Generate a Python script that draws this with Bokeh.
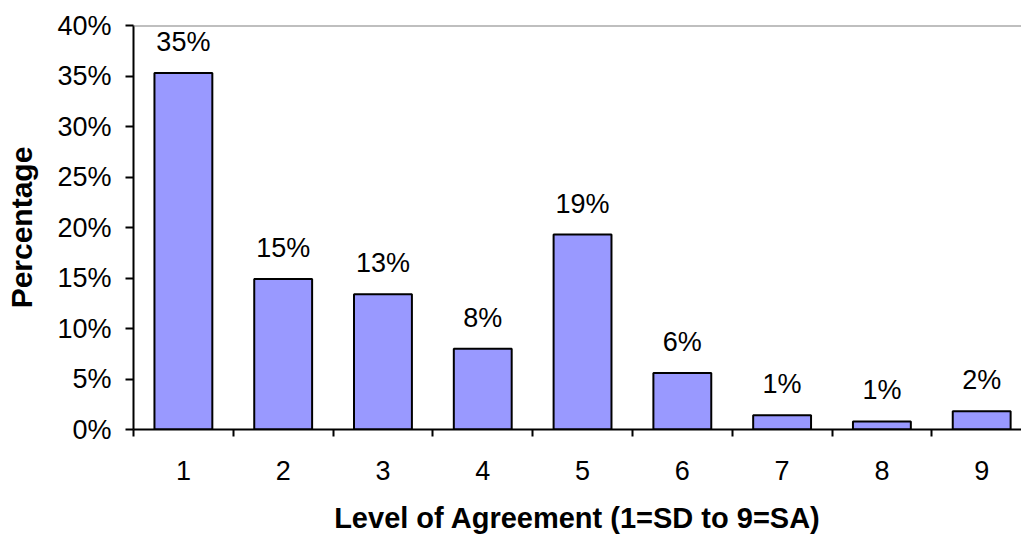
from bokeh.plotting import figure
from bokeh.models import Range1d, FixedTicker, Span, ColumnDataSource
from bokeh.core.properties import value
from bokeh.embed import file_html
from bokeh.resources import INLINE

# Data
levels = [1, 2, 3, 4, 5, 6, 7, 8, 9]
percent = [35.3, 14.9, 13.4, 8.0, 19.3, 5.6, 1.4, 0.8, 1.8]
labels = ["35%", "15%", "13%", "8%", "19%", "6%", "1%", "1%", "2%"]
y_ticks = [0, 5, 10, 15, 20, 25, 30, 35, 40]
y_tick_labels = ["0%", "5%", "10%", "15%", "20%", "25%", "30%", "35%", "40%"]
x_title = "Level of Agreement (1=SD to 9=SA)"
y_title = "Percentage"

FONT = "Liberation Sans"

src = ColumnDataSource(dict(x=levels, top=percent, label=labels))

p = figure(width=1021, height=537, output_backend="svg", toolbar_location=None,
           x_range=Range1d(0.5, 9.399), y_range=Range1d(0, 40))
p.min_border_left = 133
p.min_border_right = 0
p.min_border_top = 25
p.min_border_bottom = 108
p.outline_line_color = None
p.background_fill_color = "white"
p.border_fill_color = "white"
p.xgrid.grid_line_color = None
p.ygrid.grid_line_color = None

p.vbar(x="x", top="top", bottom=0, width=0.58, source=src,
       fill_color="#9999FF", line_color="black", line_width=2)

p.text(x="x", y="top", text="label", source=src, text_align="center",
       text_baseline="alphabetic", y_offset=-31, text_font=value(FONT),
       text_font_size="27px", text_color="black")

p.add_layout(Span(location=40, dimension="width", line_color="#808080", line_width=2))

# x axis
xa = p.xaxis[0]
xa.ticker = FixedTicker(ticks=levels, minor_ticks=[v - 0.5 for v in levels] + [9.5])
xa.major_tick_line_color = None
xa.minor_tick_line_color = "black"
xa.minor_tick_line_width = 2
xa.minor_tick_out = 7
xa.minor_tick_in = 0
xa.axis_line_color = "black"
xa.axis_line_width = 2
xa.major_label_text_font = FONT
xa.major_label_text_font_size = "27px"
xa.major_label_text_color = "black"
xa.major_label_standoff = 24
xa.axis_label = x_title
xa.axis_label_text_font = FONT
xa.axis_label_text_font_size = "29px"
xa.axis_label_text_font_style = "bold"
xa.axis_label_text_color = "black"
xa.axis_label_standoff = 19

# y axis
ya = p.yaxis[0]
ya.ticker = FixedTicker(ticks=y_ticks, minor_ticks=[])
ya.major_label_overrides = {t: l for t, l in zip(y_ticks, y_tick_labels)}
ya.major_tick_line_color = "black"
ya.major_tick_line_width = 2
ya.major_tick_out = 8
ya.major_tick_in = 0
ya.minor_tick_line_color = None
ya.axis_line_color = "black"
ya.axis_line_width = 2
ya.major_label_text_font = FONT
ya.major_label_text_font_size = "27px"
ya.major_label_text_color = "black"
ya.major_label_standoff = 14
ya.axis_label = y_title
ya.axis_label_text_font = FONT
ya.axis_label_text_font_size = "30px"
ya.axis_label_text_font_style = "bold"
ya.axis_label_text_color = "black"
ya.axis_label_standoff = 16

open("out.html", "w").write(file_html(p, INLINE))
